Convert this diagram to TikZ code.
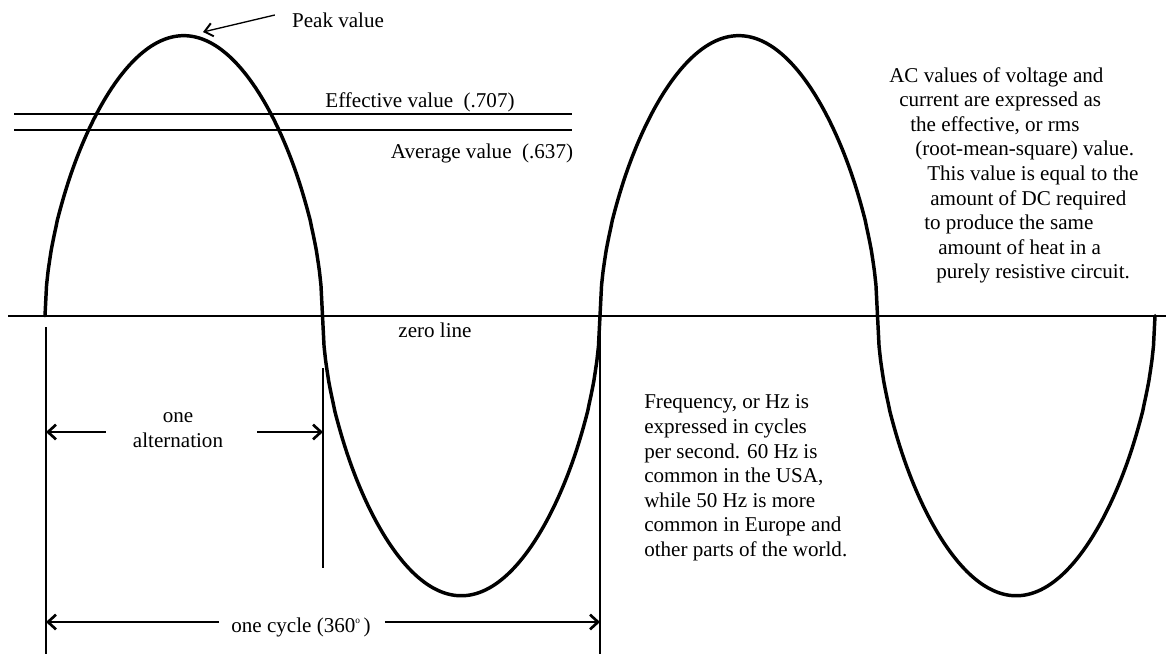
\documentclass[tikz,border=0pt]{standalone}
\usepackage{fontspec}
\setmainfont{Liberation Serif}
\usetikzlibrary{arrows.meta}

\begin{document}
\begin{tikzpicture}[x=0.75pt,y=-0.75pt]

\tikzstyle{every node}=[font=\fontsize{15.8}{18.45}\selectfont, inner sep=0pt]
\tikzset{
  rule line/.style={line width=1.4pt},
  wave line/.style={line width=2.6pt, line join=round, line cap=round},
  dim arrow/.style={line width=1.4pt, -{Straight Barb[length=6pt,width=11pt,line width=2pt]}},
  peak arrow/.style={line width=1pt, -{Straight Barb[length=6pt,width=10pt,line width=1.5pt]}}
}
\useasboundingbox (0,0) rectangle (1166,654);

% zero line
    \draw[rule line] (8,315.7) -- (1166,315.7);
    \node (zero) at (435,330) {zero line};

% wave, two cycles (rounder than a pure sine)
    \draw[wave line] plot[domain=0:720, samples=721]
      ({45+1.541667*\x}, {315.7-280*sign(sin(\x))*pow(abs(sin(\x)),0.55)});

% effective and average value
    \draw[rule line] (14,114) -- (572,114);
    \draw[rule line] (14,130) -- (572,130);
    \node (eff) at (420,102) {Effective value~~(.707)};
    \node (avg) at (482,153) {Average value~~(.637)};

% peak value
    \node (peak) at (338,20) {Peak value};
    \coordinate (top) at (203,32);
    \draw[peak arrow] (peak.west) ++(-17,-5) -- (top);

% vertical marks
    \draw[rule line] (46,327) -- (46,654);
    \draw[rule line] (323,368) -- (323,568);
    \draw[rule line] (600,328) -- (600,654);

% one alternation
    \node[align=center] (alt) at (178,430) {one\\alternation};
    \coordinate (altA) at (46,432);
    \coordinate (altB) at (323,432);
    \draw[dim arrow] (alt.west |- altA) ++(-27,0) -- (altA);
    \draw[dim arrow] (alt.east |- altB) ++(34,0) -- (altB);

% one cycle
    \node (cyc) at (301,627) {one cycle (360\raisebox{0.9ex}{\scriptsize o}\,)};
    \coordinate (cycA) at (46,622);
    \coordinate (cycB) at (600,622);
    \draw[dim arrow] (cyc.west |- cycA) ++(-12,0) -- (cycA);
    \draw[dim arrow] (cyc.east |- cycB) ++(14,0) -- (cycB);

% frequency note
    \node[align=left, anchor=west] (freq) at (644,478) {Frequency, or Hz is\\
      expressed in cycles\\ per second. 60 Hz is\\ common in the USA,\\
      while 50 Hz is more\\ common in Europe and\\ other parts of the world.};

% rms note
  \foreach \x/\t [count=\i] in {889/AC values of voltage and,
      899/current are expressed as, 910/{the effective, or rms},
      915/(root-mean-square) value., 927/This value is equal to the,
      930/amount of DC required, 924/to produce the same,
      938/amount of heat in a, 936/purely resistive circuit.}
    \node[anchor=base west] (rms\i) at (\x,{82+24.6*(\i-1)}) {\t};

\end{tikzpicture}
\end{document}
